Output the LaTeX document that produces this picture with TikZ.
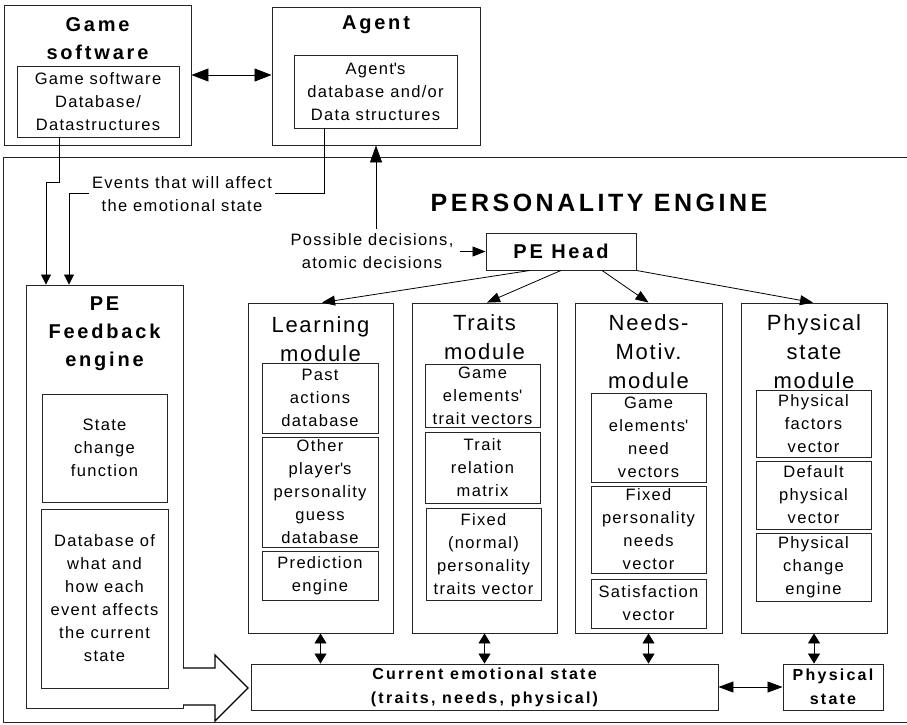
\documentclass[tikz,border=0pt]{standalone}
\usepackage{fontspec}
\setmainfont{Liberation Sans}
\usetikzlibrary{arrows.meta,calc}
\newfontfamily\fReg[LetterSpace=8]{Liberation Sans}
\newfontfamily\fModule[LetterSpace=8]{Liberation Sans}
\newfontfamily\fBoldT[LetterSpace=14]{Liberation Sans}
\newcommand\myTxt{\fReg\fontsize{16.5}{23}\selectfont}
\newcommand\myMod{\fModule\fontsize{22}{29}\selectfont}
\newcommand\myBold{\fBoldT\bfseries\fontsize{20}{28}\selectfont}
\newcommand\myBoldS{\fBoldT\bfseries\fontsize{16}{24}\selectfont}
\newcommand\myBig{\fBoldT\bfseries\fontsize{25}{30}\selectfont}
\definecolor{lc}{gray}{0.15}
\tikzset{
  outer/.style={draw=lc, line width=0.9pt, inner sep=0pt},
  box/.style={draw=lc, line width=0.9pt, inner sep=0pt, align=center, font=\myTxt},
  txt/.style={inner sep=0pt, align=center, font=\myTxt},
  btitle/.style={inner sep=0pt, align=center, font=\myBold},
  mtitle/.style={inner sep=0pt, align=center, font=\myMod},
  arr/.style={draw=black, line width=0.8pt, -{Triangle[length=13pt,width=10pt]}},
  arrbig/.style={draw=black, line width=0.8pt, -{Triangle[length=17pt,width=12pt]}},
  arrs/.style={draw=black, line width=0.8pt, -{Triangle[length=10pt,width=10pt]}},
  darr/.style={draw=black, line width=0.8pt, {Triangle[length=17pt,width=13pt]}-{Triangle[length=17pt,width=13pt]}},
  darrm/.style={draw=black, line width=0.8pt, {Triangle[length=15pt,width=11pt]}-{Triangle[length=15pt,width=11pt]}},
  darrs/.style={draw=black, line width=0.8pt, {Triangle[length=10pt,width=12pt]}-{Triangle[length=10pt,width=12pt]}},
}
\begin{document}
\begin{tikzpicture}[x=1pt,y=-1pt]
\useasboundingbox (0,0) rectangle (907,724);
\fill[white] (0,0) rectangle (907,724);

% Game software
\node[outer, minimum width=187, minimum height=140] (game) at (97.5,75) {};
\node[btitle] (gametitle) at (97.5,39) {Game\\software};
\node[box, minimum width=162, minimum height=71] (gamein) at (98,101.5) {Game software\\Database/\\Datastructures};

% Agent
\node[outer, minimum width=208, minimum height=138] (agent) at (376,76) {};
\node[btitle] (agenttitle) at (376,25) {Agent};
\node[box, minimum width=163, minimum height=73] (agentin) at (375.5,91.5) {Agent\textquotesingle s\\database and/or\\Data structures};

\draw[darr] (game.east) -- (game.east -| agent.west);

% Personality engine frame
\draw[draw=lc, line width=0.9pt] (907,157) -- (3,157) -- (3,722) -- (907,722);
\node[inner sep=0pt, font=\myBig] (petitle) at (599,203) {PERSONALITY ENGINE};

% PE Head
\node[box, font=\myBold, minimum width=150, minimum height=37] (pehead) at (561,251.5) {PE Head};
\node[txt] (poss) at (372,251.5) {Possible decisions,\\atomic decisions};
\draw[arr, shorten <=6pt] (poss.east) -- (pehead.west);
\draw[arrbig] ([yshift=5pt]poss.north -| agent.south) -- (agent.south);

% Feedback engine
\node[outer, minimum width=157, minimum height=423] (fb) at (104.5,496.5) {};
\node[btitle] (fbtitle) at (104.5,334) {PE\\Feedback\\engine};
\node[box, minimum width=125, minimum height=108] (statechg) at (104.5,448) {State\\change\\function};
\node[box, minimum width=127, minimum height=179] (fbdb) at (104.5,598.5) {Database of\\what and\\how each\\event affects\\the current\\state};

% Event lines
\draw[arrs] ([xshift=-39pt]gamein.south) -- ++(0,45) -| ([xshift=-58.5pt]fb.north);
\draw[arrs] ([xshift=-51.5pt]agentin.south) -- ++(0,65) -| ([xshift=-35.5pt]fb.north);
\node[txt, fill=white, inner xsep=3pt, inner ysep=1pt] (events) at (182,194.5) {Events that will affect\\the emotional state};

% Learning module
\node[outer, minimum width=145, minimum height=330] (learn) at (320.5,468) {};
\node[mtitle] (learnt) at (320.5,339) {Learning\\module};
\node[box, minimum width=116, minimum height=70] (past) at (320,398) {Past\\actions\\database};
\node[box, minimum width=116, minimum height=110] (other) at (320,492) {Other\\player\textquotesingle s\\personality\\guess\\database};
\node[box, minimum width=116, minimum height=49] (pred) at (320,575.5) {Prediction\\engine};

% Traits module
\node[outer, minimum width=145, minimum height=330] (traits) at (484.5,468) {};
\node[mtitle] (traitst) at (484.5,337.5) {Traits\\module};
\node[box, minimum width=115, minimum height=63] (tgame) at (482.5,395.5) {Game\\elements\textquotesingle\\trait vectors};
\node[box, minimum width=115, minimum height=71] (trel) at (482.5,467.5) {Trait\\relation\\matrix};
\node[box, minimum width=115, minimum height=92] (tfix) at (483.5,554) {Fixed\\(normal)\\personality\\traits vector};

% Needs module
\node[outer, minimum width=147, minimum height=330] (needs) at (648.5,468) {};
\node[mtitle] (needst) at (648.5,352) {Needs-\\Motiv.\\module};
\node[box, minimum width=115, minimum height=89] (ngame) at (648.5,437.5) {Game\\elements\textquotesingle\\need\\vectors};
\node[box, minimum width=115, minimum height=87] (nfix) at (648.5,529.5) {Fixed\\personality\\needs\\vector};
\node[box, minimum width=115, minimum height=49] (nsat) at (648.5,603.5) {Satisfaction\\vector};

% Physical module
\node[outer, minimum width=146, minimum height=330] (phys) at (814,468) {};
\node[mtitle] (physt) at (814,352) {Physical\\state\\module};
\node[box, minimum width=115, minimum height=67] (pfac) at (813.5,423.5) {Physical\\factors\\vector};
\node[box, minimum width=115, minimum height=68] (pdef) at (813.5,495) {Default\\physical\\vector};
\node[box, minimum width=115, minimum height=68] (pchg) at (813.5,567) {Physical\\change\\engine};

% Current state
\node[box, font=\myBoldS, minimum width=467, minimum height=46] (cur) at (484.5,687) {Current emotional state\\(traits, needs, physical)};
\node[box, font=\myBoldS, minimum width=100, minimum height=46] (pstate) at (833,687) {Physical\\state};

% PE Head arrows
\draw[arr] ([xshift=-31pt]pehead.south) -- ([xshift=1.5pt]learn.north);
\draw[arr] (pehead.south) -- ([xshift=2.5pt]traits.north);
\draw[arr] ([xshift=41pt]pehead.south) -- (needs.north);
\draw[arr] (pehead.south east) -- ([xshift=-1pt]phys.north);

% module <-> state arrows
\draw[darrs] (learn.south) -- (learn.south |- cur.north);
\draw[darrs] (traits.south) -- (traits.south |- cur.north);
\draw[darrs] (needs.south) -- (needs.south |- cur.north);
\draw[darrs] (phys.south) -- (phys.south |- pstate.north);
\draw[darrm] (cur.east) -- (pstate.west);

% hollow block arrow
\draw[draw=black, line width=1.3pt, fill=white, line join=miter]
  (183,668) -- (215,668) -- (215,655) -- (248,688) -- (215,721) -- (215,705) -- (183,705);
\end{tikzpicture}
\end{document}
